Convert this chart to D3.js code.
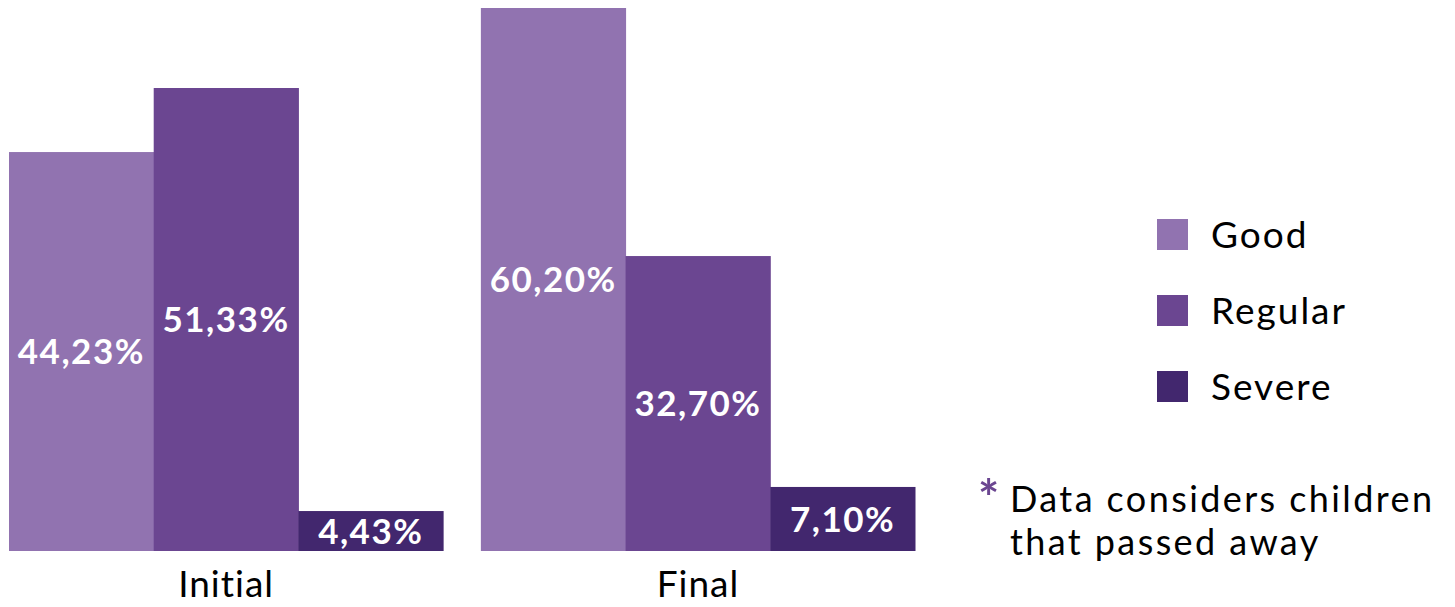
<!DOCTYPE html>
<html><head><meta charset="utf-8">
<script src="https://cdn.jsdelivr.net/npm/d3@7"></script>
<style>body{margin:0;background:#fff}svg{display:block}</style>
</head><body>
<svg id="c" width="1455" height="607"></svg>
<script>
const categories = ["Initial", "Final"];
const seriesNames = ["Good", "Regular", "Severe"];
const good = [44.23, 60.20];
const regular = [51.33, 32.70];
const severe = [4.43, 7.10];
const labelsGood = ["44,23%", "60,20%"];
const labelsRegular = ["51,33%", "32,70%"];
const labelsSevere = ["4,43%", "7,10%"];
const colors = ["#9173b0", "#6b4691", "#42276e"];
const note = ["Data considers children", "that passed away"];

const series = [good, regular, severe];
const labels = [labelsGood, labelsRegular, labelsSevere];
const font = "Lato, 'Open Sans', sans-serif";

const svg = d3.select("#c");
const x0 = d3.scaleBand().domain(categories).range([9, 915]).paddingInner(0.08).paddingOuter(0);
const x1 = d3.scaleBand().domain(seriesNames).range([0, x0.bandwidth()]);
const y = d3.scaleLinear().domain([0, 60.2]).range([551, 8]);

const data = [];
categories.forEach((c, i) => seriesNames.forEach((s, j) => data.push({c, s, j, v: series[j][i], label: labels[j][i]})));

const g = svg.append("g");
g.selectAll("rect.bar").data(data).join("rect")
  .attr("class", "bar")
  .attr("x", d => x0(d.c) + x1(d.s))
  .attr("width", x1.bandwidth() + 0.5)
  .attr("y", d => y(d.v))
  .attr("height", d => y(0) - y(d.v))
  .attr("fill", d => colors[d.j]);

g.selectAll("text.val").data(data).join("text")
  .attr("class", "val")
  .attr("x", d => x0(d.c) + x1(d.s) + x1.bandwidth() / 2)
  .attr("y", d => (y(d.v) + y(0)) / 2)
  .attr("dy", "0.36em")
  .attr("text-anchor", "middle")
  .attr("fill", "#fff")
  .attr("font-family", font)
  .attr("font-weight", "bold")
  .attr("font-size", 35)
  .attr("letter-spacing", 1.5)
  .text(d => d.label);

const xAxis = svg.append("g").attr("transform", "translate(0,551)")
  .call(d3.axisBottom(x0).tickSize(0).tickPadding(20));
xAxis.select(".domain").remove();
xAxis.selectAll("text").attr("font-family", font).attr("font-size", 37).attr("fill", "#000")
  .attr("letter-spacing", 1).attr("dy", "0.71em");

const leg = svg.append("g").attr("transform", "translate(1157,219)");
const li = leg.selectAll("g").data(seriesNames).join("g").attr("transform", (d, i) => `translate(0,${i * 76})`);
li.append("rect").attr("width", 31).attr("height", 31).attr("fill", (d, i) => colors[i]);
li.append("text").attr("x", 54).attr("y", 15.5).attr("dy", "0.36em")
  .attr("font-family", font).attr("font-size", 37).attr("letter-spacing", 2).attr("fill", "#000").text(d => d);

svg.append("text").attr("x", 978).attr("y", 516).attr("font-family", font).attr("font-weight", "bold")
  .attr("font-size", 50).attr("fill", "#6b4691").text("*");
const nt = svg.append("text").attr("font-family", font).attr("font-size", 36).attr("letter-spacing", 2.4).attr("fill", "#000");
note.forEach((t, i) => nt.append("tspan").attr("x", 1010).attr("y", 512 + i * 43).text(t));
</script>
</body></html>
